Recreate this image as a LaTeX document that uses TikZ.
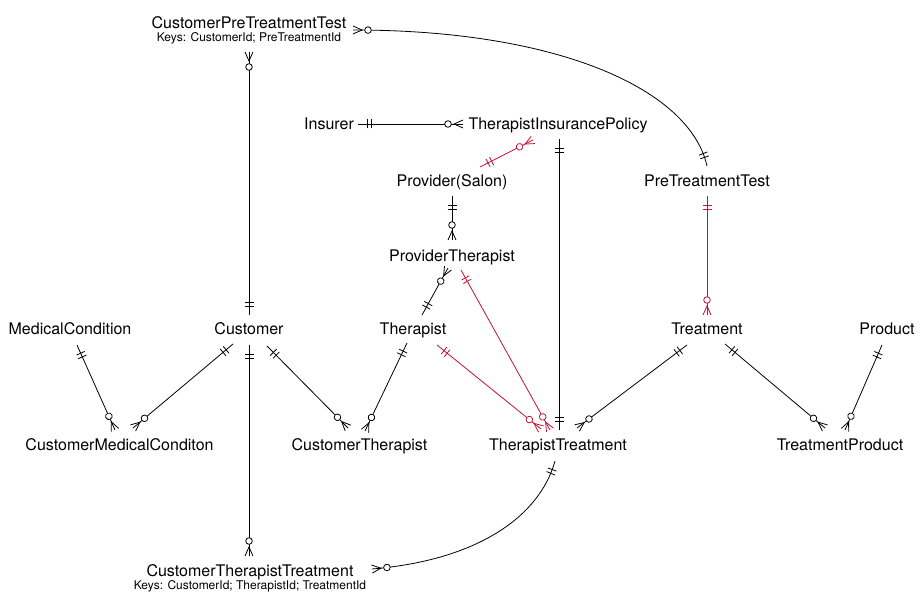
\documentclass[tikz,border=0pt]{standalone}
\usepackage{fontspec}
\setmainfont{TeX Gyre Heros}
\usetikzlibrary{decorations.markings}
\definecolor{erred}{RGB}{197,17,52}
\newcommand{\erbar}{\draw[line width=0.8pt] (0pt,-4.5pt)--(0pt,4.5pt);}
\newcommand{\ercirc}{\draw[line width=0.8pt,fill=white] (0pt,0pt) circle (3.3pt);}
\newcommand{\erfootE}{\draw[line width=0.8pt] (9pt,4pt)--(0pt,0pt)--(9pt,-4pt);}
\newcommand{\erfootS}{\draw[line width=0.8pt] (-9pt,4pt)--(0pt,0pt)--(-9pt,-4pt);}
\tikzset{
  mk/.style 2 args={postaction={decorate,decoration={markings,mark=at position #1 with {#2}}}},
  rel/.style={line width=0.8pt},
  redrel/.style={line width=0.8pt,draw=erred,color=erred},
  oneS/.style={mk={9pt}{\erbar},mk={13pt}{\erbar}},
  oneE/.style={mk={-9pt}{\erbar},mk={-13pt}{\erbar}},
  manyS/.style={mk={9pt}{\erfootS},mk={15pt}{\ercirc}},
  manyE/.style={mk={-9pt}{\erfootE},mk={-15pt}{\ercirc}},
  entity/.style={font=\fontsize{16}{19}\selectfont,inner sep=0pt,text height=11.5pt,text depth=0pt,anchor=center},
  keys/.style={font=\fontsize{12}{14}\selectfont,inner sep=0pt,text height=8.6pt,text depth=0pt,anchor=center}
}
\begin{document}
\begin{tikzpicture}[x=1pt,y=-1pt]
\useasboundingbox[fill=white] (0,0) rectangle (921,604);
% entities
\node[entity] (cptt) at (249,22.5) {CustomerPreTreatmentTest};
\node[keys] (cpttkeys) at (249,37.5) {Keys: CustomerId; PreTreatmentId};
\node[entity] (insurer) at (329,124) {Insurer};
\node[entity] (tip) at (558,124) {TherapistInsurancePolicy};
\node[entity] (provider) at (452,181) {Provider(Salon)};
\node[entity] (ptt) at (707,181) {PreTreatmentTest};
\node[entity] (pt) at (452,256) {ProviderTherapist};
\node[entity] (mc) at (70,329) {MedicalCondition};
\node[entity] (customer) at (249,329) {Customer};
\node[entity] (therapist) at (413,329) {Therapist};
\node[entity] (treatment) at (707,329) {Treatment};
\node[entity] (product) at (887,329) {Product};
\node[entity] (cmc) at (119.5,445) {CustomerMedicalConditon};
\node[entity] (ct) at (359.5,445) {CustomerTherapist};
\node[entity] (tt) at (558,445) {TherapistTreatment};
\node[entity] (tp) at (840,445) {TreatmentProduct};
\node[entity] (ctt) at (250,571) {CustomerTherapistTreatment};
\node[keys] (cttkeys) at (250,585.5) {Keys: CustomerId; TherapistId; TreatmentId};
% connector end points
\coordinate (cptt-s) at (249,52);   \coordinate (cust-n) at (249,315);
\coordinate (cptt-e) at (353,30);   \coordinate (ptt-n) at (707,166);
\coordinate (ins-e) at (358,124);   \coordinate (tip-w) at (463,124);
\coordinate (prov-ne) at (480,167); \coordinate (tip-sw) at (533,140);
\coordinate (tip-s) at (559,139);   \coordinate (tt-n) at (559,430);
\coordinate (prov-s) at (452,196);  \coordinate (pt-n) at (452,240);
\coordinate (pt-sw) at (448,268);   \coordinate (ther-n) at (422,315);
\coordinate (pt-se) at (461,270);   \coordinate (tt-nw2) at (550,430);
\coordinate (ther-se) at (437,345); \coordinate (tt-nw1) at (541,429);
\coordinate (ther-s) at (407,343);  \coordinate (ct-ne) at (365,431);
\coordinate (cust-se) at (267,346); \coordinate (ct-nw) at (348,428);
\coordinate (cust-sw) at (233,344); \coordinate (cmc-ne) at (133,428);
\coordinate (mc-s) at (77,345);     \coordinate (cmc-n) at (115,430);
\coordinate (cust-s) at (249,345);  \coordinate (ctt-n) at (249,556);
\coordinate (tt-se) at (555,461);   \coordinate (ctt-e) at (372,569);
\coordinate (ptt-s) at (707,196);   \coordinate (treat-n) at (707,315);
\coordinate (treat-sw) at (687,345);\coordinate (tt-ne) at (577,428);
\coordinate (treat-se) at (725,344);\coordinate (tp-nw) at (825,428);
\coordinate (prod-s) at (882,345);  \coordinate (tp-n) at (845,430);
% relationships
\draw[rel,manyS,oneE] (cptt-s) -- (cust-n);
\draw[rel,manyS,oneE] (cptt-e) .. controls (560,30) and (690,90) .. (ptt-n);
\draw[rel,oneS,manyE] (ins-e) -- (tip-w);
\draw[redrel,oneS,manyE] (prov-ne) -- (tip-sw);
\draw[rel,oneS,oneE] (tip-s) -- (tt-n);
\draw[rel,oneS,manyE] (prov-s) -- (pt-n);
\draw[rel,manyS,oneE] (pt-sw) -- (ther-n);
\draw[redrel,oneS,manyE] (pt-se) -- (tt-nw2);
\draw[redrel,oneS,manyE] (ther-se) -- (tt-nw1);
\draw[rel,oneS,manyE] (ther-s) -- (ct-ne);
\draw[rel,oneS,manyE] (cust-se) -- (ct-nw);
\draw[rel,oneS,manyE] (cust-sw) -- (cmc-ne);
\draw[rel,oneS,manyE] (mc-s) -- (cmc-n);
\draw[rel,oneS,manyE] (cust-s) -- (ctt-n);
\draw[rel,oneS,manyE] (tt-se) .. controls (540,515) and (480,560) .. (ctt-e);
\draw[redrel,oneS,manyE] (ptt-s) -- (treat-n);
\draw[rel,oneS,manyE] (treat-sw) -- (tt-ne);
\draw[rel,oneS,manyE] (treat-se) -- (tp-nw);
\draw[rel,oneS,manyE] (prod-s) -- (tp-n);
\end{tikzpicture}
\end{document}
